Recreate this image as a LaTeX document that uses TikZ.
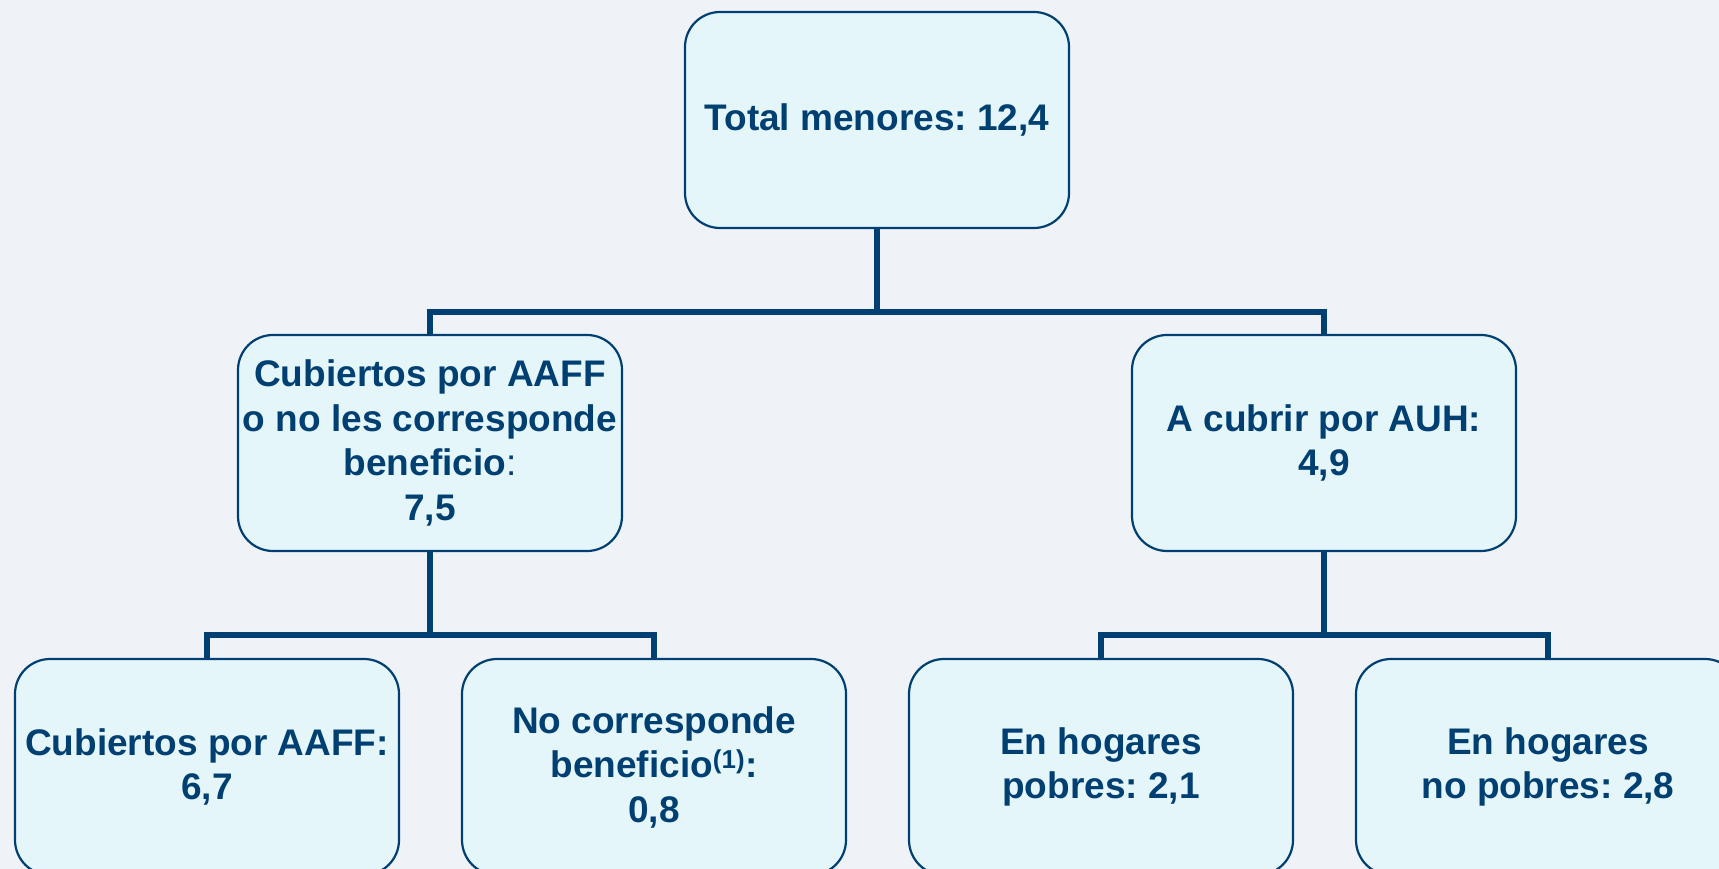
\documentclass[tikz,border=0pt]{standalone}
\usepackage{fontspec}
\setmainfont{Liberation Sans}
\frenchspacing
\definecolor{navy}{HTML}{003F72}
\definecolor{boxfill}{HTML}{E5F6FB}
\definecolor{bg}{HTML}{EFF3F7}
\tikzset{
  box/.style={rectangle, rounded corners=35pt, draw=navy, line width=2.2pt, fill=boxfill,
    minimum width=384pt, minimum height=216pt, inner sep=0pt, align=center,
    font=\fontsize{37}{44.5}\selectfont\bfseries\frenchspacing, text=navy},
  link/.style={draw=navy, line width=6pt}
}
\begin{document}
\begin{tikzpicture}[x=1pt,y=1pt]
\fill[bg] (0,0) rectangle (1719,-869);
\useasboundingbox (0,0) rectangle (1719,-869);
\clip (0,0) rectangle (1719,-869);
\node[box] (top) at (877,-120) {Total menores: 12,4};
\node[box] (ml) at (430,-443) {Cubiertos por AAFF\\o no les corresponde\\beneficio{\mdseries:}\\7,5};
\node[box] (mr) at (1324,-443) {A cubrir por AUH:\\4,9};
\node[box] (b1) at (207,-767) {Cubiertos por AAFF:\\6,7};
\node[box] (b2) at (654,-767) {No corresponde\\beneficio\textsuperscript{(1)}:\\0,8};
\node[box] (b3) at (1101,-767) {En hogares\\pobres: 2,1};
\node[box] (b4) at (1548,-767) {En hogares\\no pobres: 2,8};
\draw[link] (top.south) -- ++(0,-83) -| (ml.north);
\draw[link] (top.south) -- ++(0,-83) -| (mr.north);
\draw[link] (ml.south) -- ++(0,-83) -| (b1.north);
\draw[link] (ml.south) -- ++(0,-83) -| (b2.north);
\draw[link] (mr.south) -- ++(0,-83) -| (b3.north);
\draw[link] (mr.south) -- ++(0,-83) -| (b4.north);
\end{tikzpicture}
\end{document}
